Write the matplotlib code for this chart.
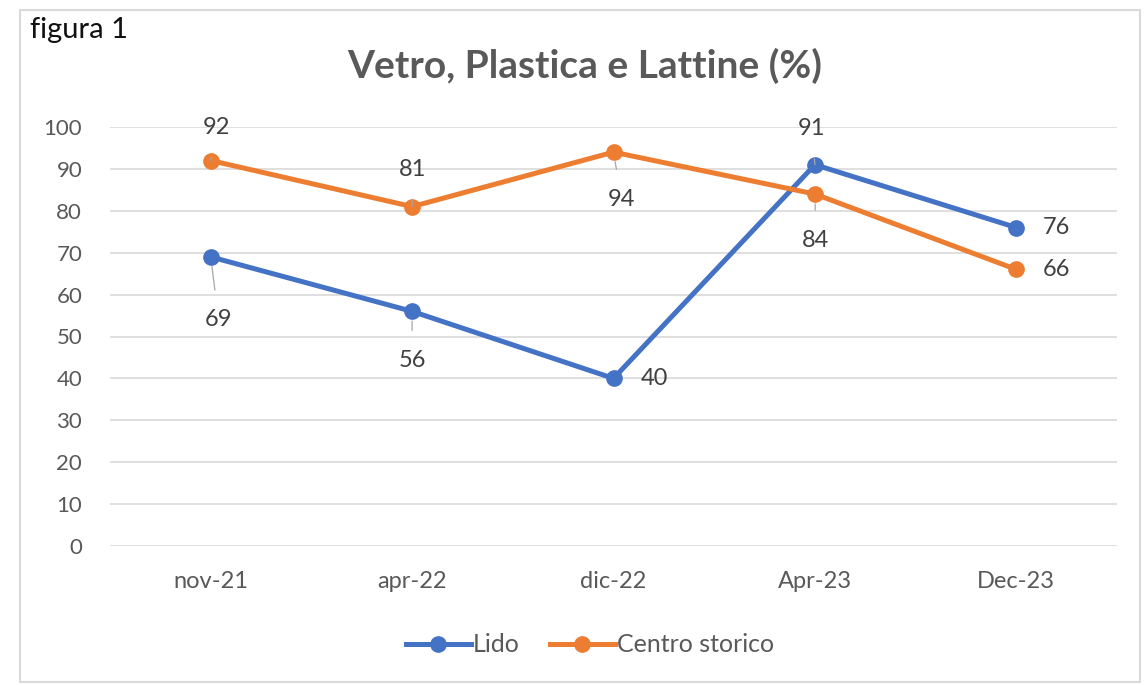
import matplotlib
matplotlib.use("Agg")
import matplotlib.pyplot as plt
from matplotlib.patches import Rectangle

categories = ["nov-21", "apr-22", "dic-22", "Apr-23", "Dec-23"]
lido = [69, 56, 40, 91, 76]
centro = [92, 81, 94, 84, 66]
series_names = ["Lido", "Centro storico"]
yticks = [0, 10, 20, 30, 40, 50, 60, 70, 80, 90, 100]

# label offsets in pixels (dx, dy) and whether a leader line is drawn
lido_offsets = [(8, -63, True), (0, -49, True), (41, 0, False), (-3, 36, True), (40, 0, False)]
centro_offsets = [(6, 33, True), (0, 37, True), (8, -47, True), (1, -46, True), (40, 0, False)]

plt.rcParams['font.family'] = ['Lato', 'DejaVu Sans']
fig = plt.figure(figsize=(11.45, 6.85), dpi=100)
fig.patches.append(Rectangle((20/1145, 0.005), 1120/1145, 1 - 10/685 - 0.005,
                             transform=fig.transFigure, fill=False,
                             edgecolor="#d9d9d9", lw=1.5))
ax = fig.add_axes([110/1145, 1 - 546/685, 1007/1145, 419/685])

x = list(range(len(categories)))
blue = "#4472C4"
orange = "#ED7D31"
ax.plot(x, lido, color=blue, lw=3.6, marker="o", ms=11, label=series_names[0], zorder=3)
ax.plot(x, centro, color=orange, lw=3.6, marker="o", ms=11, label=series_names[1], zorder=3)

def labels(vals, offs):
    for xi, v, (dx, dy, lead) in zip(x, vals, offs):
        kw = {}
        if lead:
            kw["arrowprops"] = dict(arrowstyle="-", color="#a6a6a6", lw=0.9,
                                    shrinkA=12, shrinkB=7)
        ax.annotate(str(v), (xi, v), xytext=(dx, dy), textcoords="offset pixels",
                    ha="center", va="center", fontsize=17, color="#404040", **kw)

labels(lido, lido_offsets)
labels(centro, centro_offsets)

ax.set_xlim(-0.5, len(categories) - 0.5)
ax.set_ylim(0, 100)
ax.set_yticks(yticks)
ax.set_xticks(x)
ax.set_xticklabels(categories)
ax.tick_params(axis="y", length=0, labelsize=16, colors="#595959", pad=20)
ax.tick_params(axis="x", length=0, labelsize=17, colors="#595959", pad=18)
ax.grid(axis="y", color="#d9d9d9", lw=1.2)
ax.set_axisbelow(True)
for s in ax.spines.values():
    s.set_visible(False)

fig.text(585/1145, 1 - 66/685, "Vetro, Plastica e Lattine (%)", fontsize=28,
         fontweight="bold", color="#595959", ha="center", va="center")
fig.text(30/1145, 1 - 30/685, "figura 1", fontsize=21, color="#111111",
         ha="left", va="center")

leg = fig.legend(loc="center", bbox_to_anchor=(590/1145, 1 - 645/685), ncol=2,
                 frameon=False, fontsize=18, handlelength=2.6, columnspacing=1.2,
                 handletextpad=0.1)
for t in leg.get_texts():
    t.set_color("#595959")

fig.savefig("out.png", dpi=100)
